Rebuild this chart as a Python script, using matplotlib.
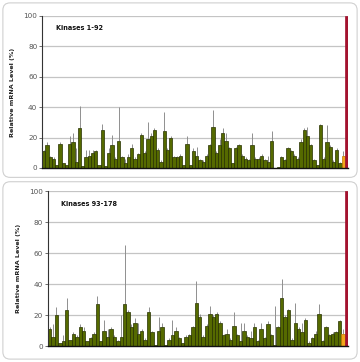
import numpy as np
import matplotlib
matplotlib.use("Agg")
import matplotlib.pyplot as plt
from matplotlib.patches import FancyBboxPatch

# kinases 1-92, relative mRNA level (%) and upper error
top_vals = [11, 15, 7, 6, 2, 16, 3, 2, 16, 17, 4, 26, 1, 7, 8, 10, 11, 2, 25, 1,
            10, 15, 6, 18, 7, 3, 7, 13, 6, 9, 22, 10, 19, 21, 25, 12, 4, 24, 12, 20,
            7, 7, 8,
            2, 16, 2, 11, 8, 5, 4, 8, 15, 27, 10, 15, 23, 18, 13, 3, 13, 15, 8, 6,
            5, 15, 6, 6, 8, 5, 4, 18, 0, 0.5, 7, 5, 13, 11, 8, 6, 17, 25, 21, 15,
            5, 2, 28, 6, 17, 14, 4, 12, 3]
top_errs = [1, 2, 1, 1, 0, 1, 0, 0, 5, 6, 9, 15, 0, 5, 4, 2, 1, 0, 4, 0,
            3, 7, 1, 22, 1, 3, 2, 3, 1, 1, 1, 1, 11, 2, 1, 1, 1, 13, 1, 1,
            1, 1, 1,
            0, 5, 0, 2, 6, 1, 1, 1, 1, 11, 1, 4, 3, 5, 1, 0, 1, 1, 1, 1,
            1, 8, 1, 1, 1, 1, 4, 6, 0, 0, 1, 1, 1, 1, 1, 1, 2, 1, 6, 1,
            1, 0, 1, 1, 11, 1, 1, 1, 1]

# kinases 93-178
bot_vals = [11, 6, 20, 2, 3, 23, 4, 8, 6, 12, 10, 3, 5, 8, 27, 3, 10, 6, 11, 6,
            3, 6, 27, 22, 12, 15, 8, 10, 4,
            22, 9, 1, 10, 12, 0.5, 4, 7, 10, 5, 2, 6, 7, 12, 28, 19, 6, 13, 21, 19,
            21, 15, 7, 8, 4, 13, 7, 3, 10, 6,
            5, 12, 3, 11, 5, 14, 7, 1, 12, 31, 19, 23, 4, 15, 11, 9, 17, 2, 5, 8,
            21, 3, 12, 7, 8, 9, 16]
bot_errs = [1, 8, 5, 0, 4, 8, 0, 1, 1, 2, 2, 0, 1, 1, 5, 0, 7, 5, 1, 1,
            1, 14, 38, 1, 2, 3, 7, 1, 1,
            3, 1, 0, 9, 3, 0, 1, 10, 2, 1, 0, 1, 1, 1, 14, 2, 1, 1, 5, 1,
            1, 1, 1, 3, 1, 9, 1, 12, 5, 1,
            5, 3, 1, 4, 1, 2, 1, 25, 1, 12, 1, 1, 1, 13, 1, 6, 1, 1, 1, 2,
            6, 1, 1, 1, 1, 1, 1]

# controls at the end of each panel
ctrl_vals = [8, 100]
ctrl_errs = [3, 0]

titles = ["Kinases 1-92", "Kinases 93-178"]
yticks = [0, 20, 40, 60, 80, 100]

green = "#556a00"
edge = "#263000"
orange = "#f2a51a"
red = "#a3122e"
grid_c = "#c4c4c4"
err_c = "#8f8f8f"

fig = plt.figure(figsize=(3.6, 3.62), dpi=100)

# rounded frames around each panel
for (y0, h) in [(0.51, 0.482), (0.008, 0.49)]:
    box = FancyBboxPatch((0.008, y0), 0.984, h, boxstyle="round,pad=0,rounding_size=0.02",
                         transform=fig.transFigure, facecolor="white",
                         edgecolor="#d0d0d0", linewidth=0.8, zorder=-5)
    fig.patches.append(box)

axes_pos = [[0.117, 0.536, 0.850, 0.420], [0.133, 0.044, 0.834, 0.428]]
data = [(top_vals, top_errs), (bot_vals, bot_errs)]

for pos, (vals, errs), title in zip(axes_pos, data, titles):
    ax = fig.add_axes(pos)
    ax.set_facecolor("none")
    v = list(vals) + ctrl_vals
    e = list(errs) + ctrl_errs
    n = len(v)
    x = np.arange(n)
    colors = [green] * len(vals) + [orange, red]
    edges = [edge] * len(vals) + ["#c07800", red]

    for yy in yticks[1:]:
        ax.axhline(yy, color=grid_c, lw=0.9, zorder=0)
    ax.bar(x, v, width=1.0, color=colors, edgecolor=edges, linewidth=0.5, zorder=2)
    ax.vlines(x, v, np.array(v) + np.array(e), color=err_c, lw=0.7, zorder=1)

    ax.set_xlim(-0.5, n - 0.5)
    ax.set_ylim(0, 100)
    ax.set_yticks(yticks)
    ax.set_xticks([])
    ax.tick_params(axis="y", labelsize=5.2, colors="#555555", length=2.5, width=0.6, pad=1)
    ax.spines["top"].set_visible(False)
    ax.spines["right"].set_visible(False)
    ax.spines["left"].set_color("#333333")
    ax.spines["left"].set_linewidth(0.8)
    ax.spines["bottom"].set_color("#111111")
    ax.spines["bottom"].set_linewidth(1.0)
    ax.set_ylabel("Relative mRNA Level (%)", fontsize=4.6, fontweight="bold",
                  color="#222222", labelpad=6)
    ax.text(0.045, 0.92, title, transform=ax.transAxes, fontsize=4.7,
            fontweight="bold", color="#111111", va="center")

fig.savefig("out.png", dpi=100)
